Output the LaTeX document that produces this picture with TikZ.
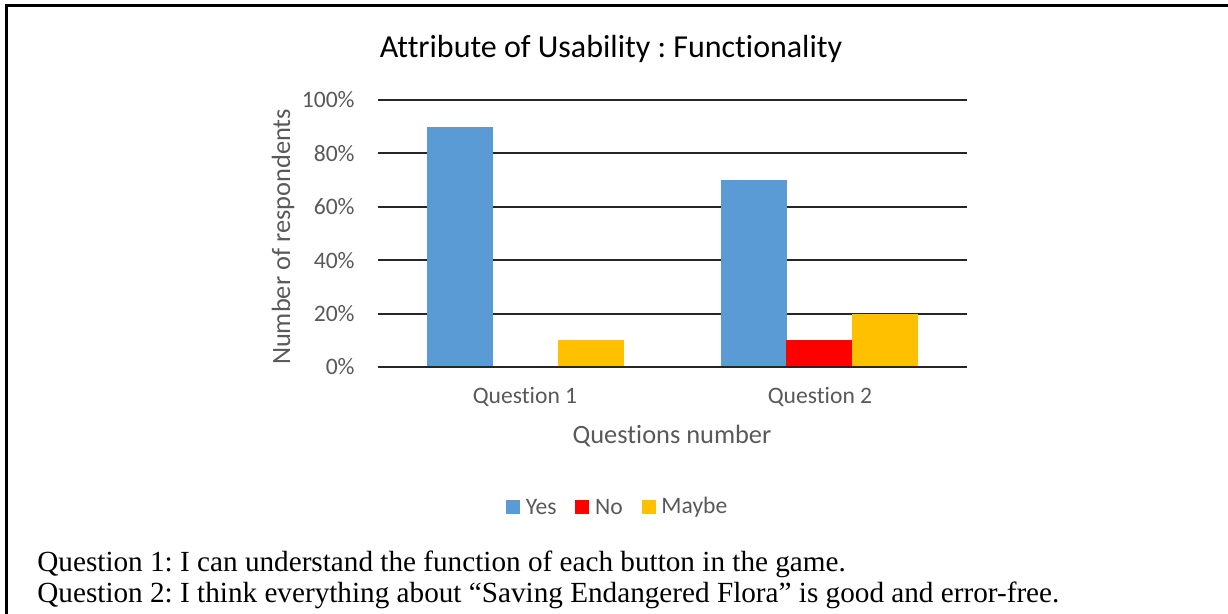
\documentclass[tikz,border=0pt]{standalone}
\usepackage{fontspec}
\setmainfont{Liberation Serif}
\newfontfamily\chartfont[Ligatures={NoCommon,NoRequired}]{Carlito}
\usetikzlibrary{positioning}
\definecolor{yescol}{HTML}{5B9BD5}
\definecolor{nocol}{HTML}{FF0000}
\definecolor{maybecol}{HTML}{FFC000}
\definecolor{inkgray}{HTML}{595959}
\frenchspacing

\begin{document}
\begin{tikzpicture}[x=0.5pt,y=-0.5pt,
    ticklbl/.style={font=\chartfont\fontsize{11.8}{13}\selectfont, text=inkgray, inner sep=0pt},
    axistitle/.style={font=\chartfont\fontsize{13.2}{15}\selectfont, text=inkgray, inner sep=0pt},
    gridline/.style={black!85, line width=1pt},
    keybox/.style={minimum size=7pt, inner sep=0pt},
    note/.style={font=\fontsize{14.6}{16}\selectfont, anchor=west, inner sep=0pt}]
  \useasboundingbox (0,0) rectangle (1228,614);
  % frame (top and left only)
  \draw[line width=1.5pt] (6.5,614) -- (6.5,5.5) -- (1228,5.5);

  \node[font=\chartfont\fontsize{16}{18}\selectfont, inner sep=0pt] (title) at (611,49) {Attribute of Usability : Functionality};

  % gridlines and tick labels
  \foreach \v in {0,20,...,100} {
    \draw[gridline] (378,{367-2.67*\v}) -- (967,{367-2.67*\v});
    \node[ticklbl, anchor=east] (tick\v) at (355,{367-2.67*\v}) {\v\%};
  }

  % bars
  \foreach \x/\v/\c in {427/90/yescol, 558/10/maybecol, 721/70/yescol, 786/10/nocol, 852/20/maybecol}
    \fill[\c] (\x,367) rectangle ({\x+65.5},{367-2.67*\v});
  \draw[gridline] (378,367) -- (967,367);

  \node[ticklbl] (cat1) at (525,397) {Question 1};
  \node[ticklbl] (cat2) at (820,397) {Question 2};
  \node[axistitle] (xlabel) at (672,436) {Questions number};
  \node[axistitle, rotate=90] (ylabel) at (283,237) {Number of respondents};

  % legend
  \node[keybox, fill=yescol] (keyyes) at (513,507) {};
  \node[ticklbl, right=2.5pt of keyyes] (txtyes) {Yes};
  \node[keybox, fill=nocol, right=9pt of txtyes] (keyno) {};
  \node[ticklbl, right=2.5pt of keyno] (txtno) {No};
  \node[keybox, fill=maybecol, right=9pt of txtno] (keymaybe) {};
  \node[ticklbl, right=2.5pt of keymaybe] (txtmaybe) {Maybe};

  \node[note] (note1) at (37,564) {Question 1: I can understand the function of each button in the game.};
  \node[note] (note2) at (37,595) {Question 2: I think everything about “Saving Endangered Flora” is good and error-free.};
\end{tikzpicture}
\end{document}
